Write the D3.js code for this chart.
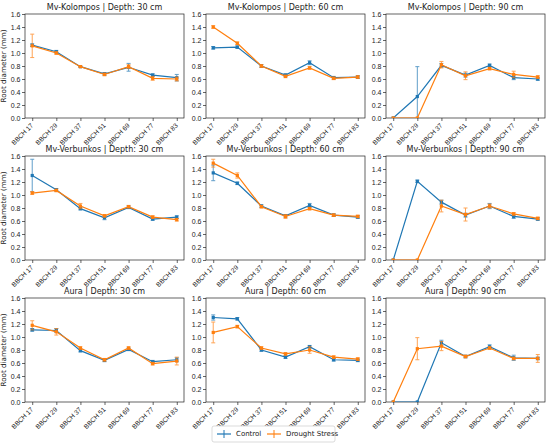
<!DOCTYPE html>
<html>
<head>
  <meta charset="utf-8">
  <script src="https://cdn.jsdelivr.net/npm/d3@7"></script>
  <style>
    body { margin: 0; background: #fff; }
    svg { font-family: "DejaVu Sans", sans-serif; display: block; }
  </style>
</head>
<body>
<script>
  const width = 550;
  const height = 447;

  // data
  const stages = ['BBCH 17', 'BBCH 29', 'BBCH 37', 'BBCH 51', 'BBCH 69', 'BBCH 77', 'BBCH 83'];
  const cultivars = ['Mv-Kolompos', 'Mv-Verbunkos', 'Aura'];
  const depths = [30, 60, 90];
  const yTicks = [0, 0.2, 0.4, 0.6, 0.8, 1.0, 1.2, 1.4, 1.6];
  const seriesNames = ['Control', 'Drought Stress'];

  // one row per panel: cultivar x depth
  const controlMean = [
    [1.12, 1.02, 0.79, 0.68, 0.78, 0.66, 0.62],
    [1.08, 1.09, 0.80, 0.66, 0.85, 0.62, 0.63],
    [0.00, 0.33, 0.81, 0.66, 0.81, 0.62, 0.60],
    [1.30, 1.08, 0.79, 0.65, 0.81, 0.63, 0.66],
    [1.34, 1.18, 0.83, 0.68, 0.84, 0.69, 0.66],
    [0.00, 1.21, 0.89, 0.69, 0.83, 0.67, 0.63],
    [1.11, 1.10, 0.79, 0.64, 0.81, 0.62, 0.65],
    [1.30, 1.28, 0.80, 0.69, 0.85, 0.65, 0.64],
    [0.00, 0.00, 0.91, 0.70, 0.85, 0.68, 0.67]
  ];
  const controlErr = [
    [0.02, 0.02, 0.01, 0.02, 0.06, 0.02, 0.05],
    [0.02, 0.02, 0.02, 0.02, 0.03, 0.02, 0.02],
    [0.00, 0.46, 0.03, 0.03, 0.02, 0.03, 0.02],
    [0.25, 0.02, 0.02, 0.03, 0.02, 0.02, 0.02],
    [0.12, 0.02, 0.02, 0.02, 0.03, 0.02, 0.02],
    [0.00, 0.02, 0.03, 0.03, 0.04, 0.03, 0.02],
    [0.02, 0.03, 0.02, 0.02, 0.02, 0.02, 0.03],
    [0.04, 0.02, 0.02, 0.02, 0.02, 0.02, 0.02],
    [0.00, 0.00, 0.04, 0.02, 0.03, 0.04, 0.02]
  ];
  const droughtMean = [
    [1.11, 1.00, 0.79, 0.67, 0.79, 0.61, 0.60],
    [1.40, 1.15, 0.80, 0.64, 0.77, 0.61, 0.63],
    [0.00, 0.00, 0.82, 0.65, 0.76, 0.67, 0.63],
    [1.03, 1.07, 0.83, 0.68, 0.82, 0.66, 0.62],
    [1.49, 1.30, 0.82, 0.67, 0.79, 0.69, 0.67],
    [0.00, 0.00, 0.83, 0.70, 0.83, 0.71, 0.64],
    [1.18, 1.08, 0.83, 0.65, 0.83, 0.59, 0.63],
    [1.07, 1.16, 0.83, 0.74, 0.80, 0.69, 0.66],
    [0.00, 0.82, 0.86, 0.70, 0.83, 0.67, 0.67]
  ];
  const droughtErr = [
    [0.18, 0.02, 0.01, 0.02, 0.03, 0.03, 0.03],
    [0.02, 0.02, 0.02, 0.02, 0.02, 0.02, 0.02],
    [0.00, 0.00, 0.05, 0.06, 0.02, 0.05, 0.02],
    [0.02, 0.02, 0.04, 0.02, 0.02, 0.02, 0.02],
    [0.06, 0.04, 0.02, 0.03, 0.02, 0.02, 0.02],
    [0.00, 0.00, 0.09, 0.10, 0.03, 0.02, 0.02],
    [0.07, 0.05, 0.02, 0.02, 0.02, 0.02, 0.06],
    [0.16, 0.02, 0.02, 0.02, 0.05, 0.02, 0.02],
    [0.00, 0.17, 0.07, 0.02, 0.02, 0.02, 0.06]
  ];

  const colors = ['#1f77b4', '#ff7f0e'];

  // panel layout
  const panelLeft = [25, 206, 386];
  const panelTop = [14, 156, 298];
  const pw = 159, ph = 104;

  const svg = d3.select('body').append('svg')
    .attr('width', width)
    .attr('height', height);

  const x = d3.scalePoint().domain(stages).range([0, pw]).padding(0.3);
  const y = d3.scaleLinear().domain([0, 1.6]).range([ph, 0]);

  const line = d3.line()
    .x((d, i) => x(stages[i]))
    .y(d => y(d));

  cultivars.forEach((cv, r) => {
    depths.forEach((dp, c) => {
      const k = r * 3 + c;
      const g = svg.append('g')
        .attr('transform', `translate(${panelLeft[c]},${panelTop[r]})`);

      g.append('clipPath').attr('id', `clip${k}`)
        .append('rect').attr('width', pw).attr('height', ph);

      // axes
      const yAxis = g.append('g')
        .call(d3.axisLeft(y).tickValues(yTicks).tickFormat(d3.format('.1f')).tickSize(3));
      const xAxis = g.append('g')
        .attr('transform', `translate(0,${ph})`)
        .call(d3.axisBottom(x).tickSize(3));
      [xAxis, yAxis].forEach(a => {
        a.select('.domain').remove();
        a.selectAll('text').attr('font-size', 7).attr('fill', '#222');
        a.selectAll('line').attr('stroke', '#222').attr('stroke-width', 0.7);
      });
      yAxis.selectAll('text').attr('x', -4.5);
      xAxis.selectAll('text')
        .attr('font-size', 6.6)
        .attr('text-anchor', 'end')
        .attr('y', 0)
        .attr('dy', 0)
        .attr('transform', 'translate(1,8) rotate(-45)');

      g.append('rect')
        .attr('width', pw).attr('height', ph)
        .attr('fill', 'none').attr('stroke', '#222').attr('stroke-width', 0.7);

      g.append('text')
        .attr('x', pw / 2).attr('y', -4)
        .attr('text-anchor', 'middle')
        .attr('font-size', 8).attr('fill', '#222')
        .text(`${cv} | Depth: ${dp} cm`);

      if (c === 0) {
        g.append('text')
          .attr('transform', `translate(-19,${ph / 2}) rotate(-90)`)
          .attr('text-anchor', 'middle')
          .attr('font-size', 7.2).attr('fill', '#222')
          .text('Root diameter (mm)');
      }

      const plot = g.append('g').attr('clip-path', `url(#clip${k})`);
      const series = [
        { mean: controlMean[k], err: controlErr[k], color: colors[0] },
        { mean: droughtMean[k], err: droughtErr[k], color: colors[1] }
      ];
      series.forEach(s => {
        const pts = s.mean.map((m, i) => ({ m, e: s.err[i], st: stages[i] }));
        const eb = plot.append('g')
          .attr('stroke', s.color).attr('stroke-width', 1).attr('opacity', 0.7);
        eb.selectAll('line.v').data(pts.filter(p => p.e > 0)).join('line')
          .attr('class', 'v')
          .attr('x1', p => x(p.st)).attr('x2', p => x(p.st))
          .attr('y1', p => y(p.m - p.e)).attr('y2', p => y(p.m + p.e));
        ['-', '+'].forEach(sign => {
          eb.selectAll(`line.cap${sign === '-' ? 'lo' : 'hi'}`)
            .data(pts.filter(p => p.e > 0)).join('line')
            .attr('x1', p => x(p.st) - 2).attr('x2', p => x(p.st) + 2)
            .attr('y1', p => y(sign === '-' ? p.m - p.e : p.m + p.e))
            .attr('y2', p => y(sign === '-' ? p.m - p.e : p.m + p.e));
        });
        plot.append('path')
          .datum(s.mean)
          .attr('d', line)
          .attr('fill', 'none')
          .attr('stroke', s.color)
          .attr('stroke-width', 1.2);
        plot.selectAll(null).data(pts).join('rect')
          .attr('x', p => x(p.st) - 1.6).attr('y', p => y(p.m) - 1.6)
          .attr('width', 3.2).attr('height', 3.2)
          .attr('fill', s.color);
      });
    });
  });

  // legend
  const lg = svg.append('g').attr('transform', 'translate(212,426)');
  lg.append('rect')
    .attr('width', 123).attr('height', 16).attr('rx', 2)
    .attr('fill', '#fff').attr('stroke', '#ccc').attr('stroke-width', 0.7);
  const itemX = [5, 55];
  seriesNames.forEach((name, i) => {
    const it = lg.append('g').attr('transform', `translate(${itemX[i]},8)`);
    it.append('line').attr('x1', 0).attr('x2', 14)
      .attr('stroke', colors[i]).attr('stroke-width', 1.2);
    it.append('line').attr('x1', 7).attr('x2', 7).attr('y1', -4).attr('y2', 4)
      .attr('stroke', colors[i]).attr('stroke-width', 1);
    it.append('text').attr('x', 19).attr('y', 0).attr('dy', '0.35em')
      .attr('font-size', 7).attr('fill', '#222').text(name);
  });
</script>
</body>
</html>
